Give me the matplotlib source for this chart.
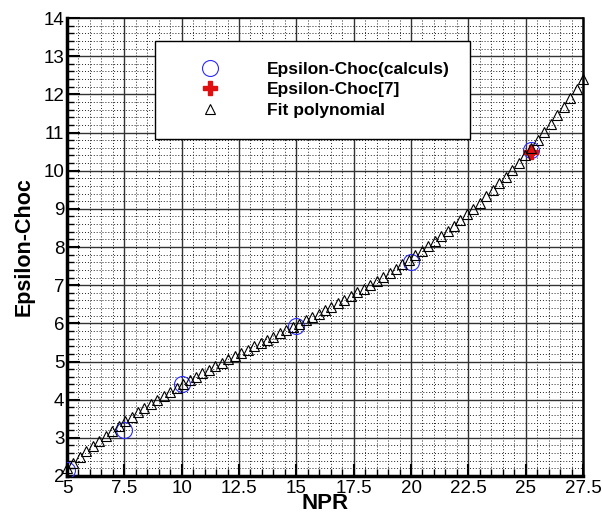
import numpy as np
import matplotlib.pyplot as plt
from matplotlib.ticker import MultipleLocator

plt.rcParams['font.family'] = ['Liberation Sans', 'DejaVu Sans']

# computed points
npr_calc = [5, 7.5, 10, 15, 20, 25.25]
eps_calc = [2.15, 3.2, 4.42, 5.93, 7.62, 10.55]

# reference [7]
npr_ref = [25.25]
eps_ref = [10.5]

# fit polynomial, 81 points from 5 to 27.5
npr_fit = np.linspace(5, 27.5, 81)
eps_fit = [2.200, 2.353, 2.502, 2.647, 2.788, 2.925, 3.058, 3.187, 3.313, 3.436,
           3.555, 3.671, 3.785, 3.895, 4.003, 4.108, 4.211, 4.312, 4.411, 4.507,
           4.602, 4.696, 4.787, 4.878, 4.967, 5.055, 5.142, 5.229, 5.314, 5.400,
           5.484, 5.569, 5.654, 5.738, 5.823, 5.908, 5.994, 6.080, 6.167, 6.255,
           6.344, 6.434, 6.525, 6.618, 6.713, 6.809, 6.908, 7.008, 7.110, 7.215,
           7.323, 7.432, 7.545, 7.661, 7.779, 7.901, 8.026, 8.155, 8.287, 8.423,
           8.563, 8.707, 8.855, 9.008, 9.165, 9.326, 9.493, 9.664, 9.840, 10.022,
           10.208, 10.401, 10.598, 10.802, 11.011, 11.227, 11.449, 11.677, 11.911, 12.152,
           12.400]

xticks = [5, 7.5, 10, 12.5, 15, 17.5, 20, 22.5, 25, 27.5]
xticklabels = ['5', '7.5', '10', '12.5', '15', '17.5', '20', '22.5', '25', '27.5']
yticks = list(range(2, 15))

fig = plt.figure(figsize=(6.02, 5.15), dpi=100)
ax = fig.add_axes([67/602, 1-476/515, (583-67)/602, (476-18)/515])

ax.plot(npr_calc, eps_calc, 'o', mfc='none', mec='#2b2bff', ms=11.5, mew=0.8,
        label='Epsilon-Choc(calculs)', zorder=3)
ax.plot(npr_ref, eps_ref, 'P', color='#e01010', mec='#e01010', ms=10,
        label='Epsilon-Choc[7]', zorder=4)
ax.plot(npr_fit, eps_fit, '^', mfc='none', mec='black', ms=7, mew=0.8,
        label='Fit polynomial', zorder=5, clip_on=False)

ax.set_xlim(5, 27.5)
ax.set_ylim(2, 14)
ax.set_xticks(xticks)
ax.set_xticklabels(xticklabels)
ax.set_yticks(yticks)
ax.xaxis.set_minor_locator(MultipleLocator(0.5))
ax.yaxis.set_minor_locator(MultipleLocator(0.2))

ax.grid(which='major', color='#333333', lw=1.0, ls='-')
ax.grid(which='minor', color='#222222', lw=0.7, ls=(0, (1, 2)))
ax.set_axisbelow(True)

ax.tick_params(which='major', direction='in', length=9, width=1.5, labelsize=13.5,
               top=False, right=False)
ax.tick_params(axis='x', which='major', pad=3)
ax.tick_params(axis='y', which='major', pad=2)
ax.tick_params(which='minor', direction='in', length=5, width=1.0,
               top=False, right=False)

ax.spines['left'].set_linewidth(2.5)
ax.spines['bottom'].set_linewidth(2.5)
ax.spines['right'].set_linewidth(1.8)
ax.spines['top'].set_linewidth(1.2)

ax.set_xlabel('NPR', fontsize=16, fontweight='bold', labelpad=-3)
ax.set_ylabel('Epsilon-Choc', fontsize=15.5, fontweight='bold', labelpad=6)

leg = ax.legend(loc='upper left', bbox_to_anchor=(155/602, 1-41/515),
                bbox_transform=fig.transFigure, fancybox=False, framealpha=1,
                edgecolor='black', borderpad=1.2, handlelength=3.9,
                handletextpad=1.33, labelspacing=0.3, borderaxespad=0,
                prop={'weight': 'bold', 'size': 12.5})
leg.get_frame().set_linewidth(1.0)
leg.set_zorder(10)

fig.savefig('out.png', dpi=100)
